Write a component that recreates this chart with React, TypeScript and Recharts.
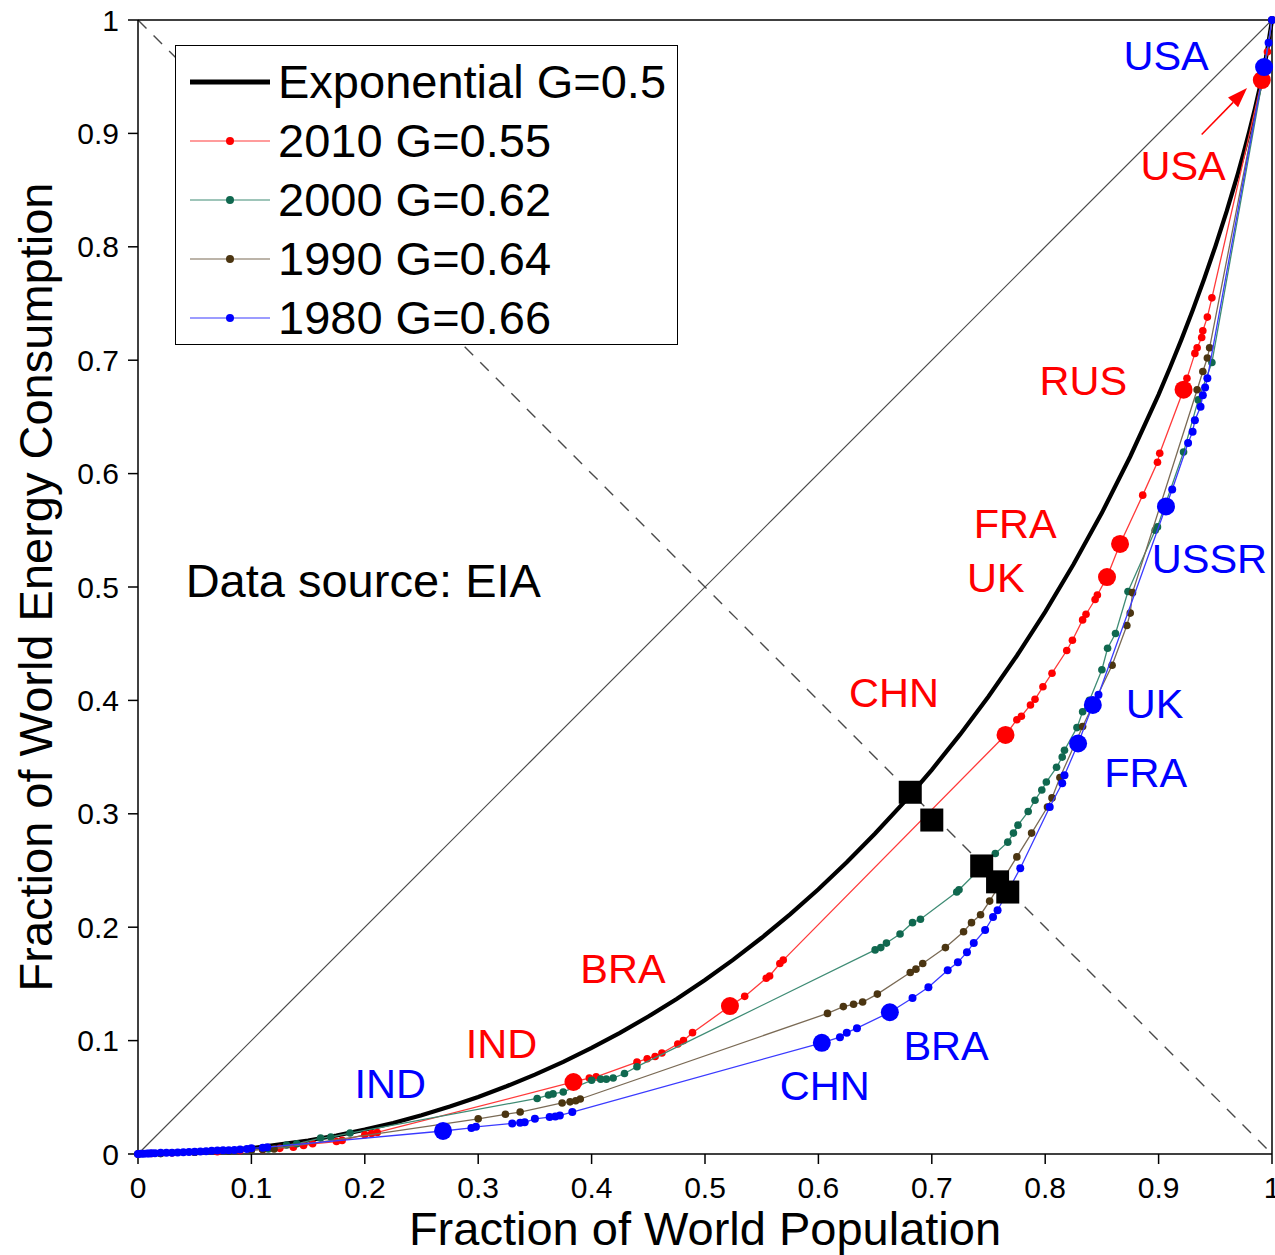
import React from 'react';
import { ScatterChart, Scatter, XAxis, YAxis, ReferenceLine, Legend } from 'recharts';

const FONT = '"Liberation Sans", Arial, Helvetica, sans-serif';

const RED = '#ff0000';
const GREEN = '#10684f';
const BROWN = '#4b3511';
const BLUE = '#0000ff';

const ticks = [0, 0.1, 0.2, 0.3, 0.4, 0.5, 0.6, 0.7, 0.8, 0.9, 1];
const tickLabels = ['0', '0.1', '0.2', '0.3', '0.4', '0.5', '0.6', '0.7', '0.8', '0.9', '1'];

// exponential Lorenz curve
const expo: [number, number][] = [
  [0, 0], [0.05, 0.0013], [0.1, 0.0052], [0.15, 0.0119], [0.175, 0.0163], [0.2, 0.0215], [0.225, 0.0274],
  [0.25, 0.0342], [0.275, 0.0419], [0.3, 0.0503], [0.325, 0.0597], [0.35, 0.07], [0.375, 0.0812],
  [0.4, 0.0935], [0.425, 0.1068], [0.45, 0.1212], [0.475, 0.1367], [0.5, 0.1534], [0.525, 0.1714],
  [0.55, 0.1907], [0.575, 0.2113], [0.6, 0.2335], [0.625, 0.2572], [0.65, 0.2826], [0.675, 0.3097],
  [0.7, 0.3388], [0.725, 0.37], [0.75, 0.4034], [0.775, 0.4394], [0.8, 0.4781], [0.825, 0.52],
  [0.85, 0.5654], [0.875, 0.6151], [0.9, 0.6697], [0.91, 0.6933], [0.92, 0.7179], [0.93, 0.7438],
  [0.94, 0.7712], [0.95, 0.8002], [0.96, 0.8312], [0.97, 0.8648], [0.975, 0.8828], [0.98, 0.9018],
  [0.985, 0.922], [0.99, 0.9439], [0.995, 0.9685], [1, 1],
];

const s2010: [number, number][] = [
  [0, 0], [0.012, 0.0005], [0.03, 0.001], [0.05, 0.0015], [0.07, 0.002], [0.09, 0.003], [0.11, 0.004],
  [0.125, 0.005], [0.137, 0.006], [0.146, 0.0075], [0.154, 0.009], [0.175, 0.011], [0.18, 0.012],
  [0.2, 0.017], [0.206, 0.018], [0.211, 0.019], [0.384, 0.0635], [0.398, 0.067], [0.404, 0.068],
  [0.44, 0.081], [0.449, 0.084], [0.456, 0.086], [0.462, 0.089], [0.476, 0.097], [0.481, 0.1],
  [0.489, 0.107], [0.522, 0.1305], [0.535, 0.139], [0.554, 0.155], [0.557, 0.157], [0.566, 0.168],
  [0.569, 0.171], [0.765, 0.3695], [0.775, 0.383], [0.779, 0.386], [0.787, 0.396], [0.791, 0.401],
  [0.798, 0.412], [0.806, 0.424], [0.819, 0.444], [0.824, 0.453], [0.833, 0.471], [0.836, 0.476],
  [0.844, 0.489], [0.846, 0.493], [0.8545, 0.5088], [0.866, 0.538], [0.886, 0.581], [0.899, 0.61],
  [0.901, 0.618], [0.922, 0.674], [0.925, 0.684], [0.932, 0.706], [0.934, 0.711], [0.938, 0.72],
  [0.939, 0.726], [0.943, 0.738], [0.947, 0.755], [0.991, 0.947], [0.996, 0.972], [1, 1],
];

const s2000: [number, number][] = [
  [0, 0], [0.02, 0.0005], [0.05, 0.0015], [0.08, 0.0025], [0.1, 0.0035], [0.115, 0.0045],
  [0.131, 0.008], [0.14, 0.009], [0.161, 0.014], [0.17, 0.015], [0.187, 0.0185], [0.352, 0.049],
  [0.362, 0.052], [0.366, 0.053], [0.375, 0.0547], [0.4, 0.065], [0.408, 0.066], [0.413, 0.066],
  [0.419, 0.067], [0.429, 0.071], [0.44, 0.077], [0.65, 0.18], [0.655, 0.182], [0.66, 0.186],
  [0.672, 0.194], [0.683, 0.204], [0.69, 0.207], [0.722, 0.231], [0.724, 0.233], [0.756, 0.265],
  [0.767, 0.275], [0.772, 0.283], [0.776, 0.29], [0.785, 0.302], [0.791, 0.312], [0.797, 0.321],
  [0.801, 0.328], [0.81, 0.341], [0.815, 0.35], [0.817, 0.356], [0.828, 0.376], [0.833, 0.39],
  [0.839, 0.4], [0.85, 0.427], [0.855, 0.446], [0.862, 0.459], [0.873, 0.496], [0.897, 0.55],
  [0.899, 0.553], [0.922, 0.619], [0.935, 0.665], [0.947, 0.698], [0.993, 0.955], [1, 1],
];

const s1990: [number, number][] = [
  [0, 0], [0.02, 0.0005], [0.05, 0.0015], [0.08, 0.0025], [0.1, 0.0035], [0.11, 0.004], [0.12, 0.0045],
  [0.3, 0.031], [0.324, 0.035], [0.337, 0.037], [0.374, 0.045], [0.381, 0.046], [0.386, 0.047],
  [0.39, 0.0485], [0.608, 0.124], [0.622, 0.13], [0.631, 0.132], [0.639, 0.134], [0.652, 0.141],
  [0.681, 0.16], [0.686, 0.163], [0.692, 0.168], [0.712, 0.182], [0.728, 0.196], [0.735, 0.204],
  [0.743, 0.211], [0.751, 0.223], [0.775, 0.262], [0.788, 0.283], [0.802, 0.306], [0.806, 0.314],
  [0.813, 0.332], [0.833, 0.377], [0.859, 0.431], [0.872, 0.466], [0.875, 0.477], [0.877, 0.495],
  [0.934, 0.674], [0.939, 0.69], [0.943, 0.702], [0.945, 0.711], [0.993, 0.957], [1, 1],
];

const s1980: [number, number][] = [
  [0, 0], [0.0025, 0.0002], [0.005, 0.0003], [0.008, 0.0004], [0.01, 0.0005], [0.012, 0.0006],
  [0.015, 0.0007], [0.02, 0.001], [0.025, 0.0011], [0.03, 0.0012], [0.035, 0.0013], [0.04, 0.0015],
  [0.045, 0.0017], [0.05, 0.002], [0.055, 0.0022], [0.06, 0.0025], [0.065, 0.0028], [0.07, 0.003],
  [0.075, 0.0032], [0.08, 0.0034], [0.085, 0.0035], [0.09, 0.004], [0.096, 0.0045], [0.1, 0.005],
  [0.11, 0.0055], [0.114, 0.006], [0.269, 0.0203], [0.294, 0.023], [0.298, 0.024],
  [0.33, 0.027], [0.337, 0.0275], [0.341, 0.028], [0.35, 0.031], [0.363, 0.0326], [0.368, 0.033],
  [0.372, 0.034], [0.383, 0.037], [0.603, 0.098], [0.619, 0.103], [0.625, 0.107], [0.634, 0.111],
  [0.663, 0.125], [0.683, 0.1375], [0.697, 0.147], [0.714, 0.162], [0.723, 0.169], [0.731, 0.178],
  [0.737, 0.186], [0.747, 0.1975], [0.754, 0.209], [0.758, 0.215], [0.778, 0.252], [0.804, 0.306],
  [0.815, 0.327], [0.817, 0.334], [0.829, 0.362], [0.842, 0.396], [0.847, 0.405], [0.9065, 0.571],
  [0.912, 0.586], [0.926, 0.627], [0.93, 0.637], [0.932, 0.647], [0.937, 0.659], [0.939, 0.669],
  [0.941, 0.676], [0.943, 0.684], [0.993, 0.9585], [0.997, 0.98], [1, 1],
];

// labelled countries (big dots)
const countries2010: [number, number][] = [
  [0.384, 0.0635], [0.522, 0.1305], [0.765, 0.3695], [0.8545, 0.5088], [0.866, 0.538], [0.922, 0.674], [0.991, 0.947],
];
const countries1980: [number, number][] = [
  [0.269, 0.0203], [0.603, 0.098], [0.663, 0.125], [0.829, 0.362], [0.842, 0.396], [0.9065, 0.571], [0.993, 0.9585],
];

// points where the curves cross the anti-diagonal
const crossings: [number, number][] = [
  [0.681, 0.319], [0.7, 0.2945], [0.744, 0.254], [0.758, 0.24], [0.767, 0.231],
];

const labels = [
  { text: 'USA', x: 0.869, y: 0.956, color: BLUE },
  { text: 'USSR', x: 0.894, y: 0.512, color: BLUE },
  { text: 'UK', x: 0.871, y: 0.3845, color: BLUE },
  { text: 'FRA', x: 0.852, y: 0.3236, color: BLUE },
  { text: 'BRA', x: 0.675, y: 0.0829, color: BLUE },
  { text: 'CHN', x: 0.566, y: 0.0476, color: BLUE },
  { text: 'IND', x: 0.191, y: 0.0494, color: BLUE },
  { text: 'USA', x: 0.884, y: 0.8589, color: RED },
  { text: 'RUS', x: 0.795, y: 0.6693, color: RED },
  { text: 'FRA', x: 0.737, y: 0.5432, color: RED },
  { text: 'UK', x: 0.731, y: 0.4956, color: RED },
  { text: 'CHN', x: 0.627, y: 0.3942, color: RED },
  { text: 'BRA', x: 0.39, y: 0.1508, color: RED },
  { text: 'IND', x: 0.289, y: 0.0847, color: RED },
];

const note = [{ text: 'Data source: EIA', x: 0.042, y: 0.491 }];

const legendItems = [
  { name: 'Exponential G=0.5', line: '#000', dot: '', thick: true },
  { name: '2010 G=0.55', line: '#ff3a3a', dot: RED, thick: false },
  { name: '2000 G=0.62', line: '#3f8c75', dot: GREEN, thick: false },
  { name: '1990 G=0.64', line: '#7a6a55', dot: BROWN, thick: false },
  { name: '1980 G=0.66', line: '#3a3aff', dot: BLUE, thick: false },
];

const pts = (arr: [number, number][]) => arr.map(([x, y]) => ({ x, y }));

const dot = (color: string, r: number) => (p: any) => <circle cx={p.cx} cy={p.cy} r={r} fill={color} />;
const noDot = () => <g />;
const square = (p: any) => <rect x={p.cx - 11.5} y={p.cy - 11.5} width={23} height={23} fill="#000" />;
const textMark = (size: number) => (p: any) => (
  <text x={p.cx} y={p.cy} fill={p.payload.color || '#000'} fontSize={size} fontFamily={FONT}>
    {p.payload.text}
  </text>
);

const Arrow = (p: any) => {
  const { x1, y1, x2, y2 } = p;
  const a = Math.atan2(y2 - y1, x2 - x1);
  const L = 20;
  const W = 7;
  const bx = x2 - L * Math.cos(a);
  const by = y2 - L * Math.sin(a);
  const head = `${x2},${y2} ${bx + W * Math.sin(a)},${by - W * Math.cos(a)} ${bx - W * Math.sin(a)},${by + W * Math.cos(a)}`;
  return (
    <g>
      <line x1={x1} y1={y1} x2={bx} y2={by} stroke={RED} strokeWidth={1.5} />
      <polygon points={head} fill={RED} />
    </g>
  );
};

const LegendBox = () => (
  <div
    style={{
      width: 503,
      height: 300,
      boxSizing: 'border-box',
      border: '1px solid #000',
      background: '#fff',
      paddingTop: 6,
      fontFamily: FONT,
    }}
  >
    {legendItems.map((it) => (
      <div key={it.name} style={{ display: 'flex', alignItems: 'center', height: 59 }}>
        <svg width={80} height={20} style={{ marginLeft: 14 }}>
          <line x1={0} y1={10} x2={80} y2={10} stroke={it.line} strokeWidth={it.thick ? 5 : 1.2} />
          {it.dot && <circle cx={40} cy={10} r={4} fill={it.dot} />}
        </svg>
        <span style={{ marginLeft: 8, fontSize: 47, color: '#000', lineHeight: '59px' }}>{it.name}</span>
      </div>
    ))}
  </div>
);

const axisStroke = { stroke: '#000', strokeWidth: 1.5 };

export default function App() {
  return (
    <div style={{ position: 'absolute', left: 0, top: 0, width: 1275, height: 1255, background: '#fff', fontFamily: FONT }}>
      <ScatterChart width={1275} height={1255} margin={{ top: 0, right: 0, bottom: 0, left: 0 }}>
        <XAxis
          type="number"
          dataKey="x"
          domain={[0, 1]}
          ticks={ticks}
          tickFormatter={(v: number) => tickLabels[ticks.indexOf(v)] ?? String(v)}
          height={101}
          tickSize={10}
          tickMargin={13}
          axisLine={axisStroke}
          tickLine={axisStroke}
          tick={{ fontSize: 30, fill: '#000' }}
          interval={0}
          label={{ value: 'Fraction of World Population', position: 'insideBottom', offset: 10, fontSize: 47, fill: '#000' }}
        />
        <XAxis
          xAxisId="top"
          orientation="top"
          type="number"
          domain={[0, 1]}
          ticks={ticks}
          height={20}
          tickSize={10}
          tick={false}
          axisLine={axisStroke}
          tickLine={axisStroke}
          interval={0}
        />
        <YAxis
          type="number"
          dataKey="y"
          domain={[0, 1]}
          ticks={ticks}
          tickFormatter={(v: number) => tickLabels[ticks.indexOf(v)] ?? String(v)}
          width={138}
          tickSize={10}
          tickMargin={9}
          axisLine={axisStroke}
          tickLine={axisStroke}
          tick={{ fontSize: 30, fill: '#000' }}
          interval={0}
          label={{
            value: 'Fraction of World Energy Consumption',
            angle: -90,
            position: 'insideLeft',
            offset: 35,
            fontSize: 47,
            fill: '#000',
            style: { textAnchor: 'middle' },
          }}
        />
        <YAxis
          yAxisId="right"
          orientation="right"
          type="number"
          domain={[0, 1]}
          ticks={ticks}
          width={3}
          tickSize={10}
          tick={false}
          axisLine={axisStroke}
          tickLine={axisStroke}
          interval={0}
        />

        <ReferenceLine segment={[{ x: 0, y: 0 }, { x: 1, y: 1 }]} stroke="#4a4a4a" strokeWidth={1.2} />
        <ReferenceLine segment={[{ x: 0, y: 1 }, { x: 1, y: 0 }]} stroke="#4a4a4a" strokeWidth={1.4} strokeDasharray="12 10" />

        <Scatter data={pts(expo)} line={{ stroke: '#000', strokeWidth: 4.2 }} shape={noDot} isAnimationActive={false} />
        <Scatter data={pts(s2010)} line={{ stroke: '#ff3a3a', strokeWidth: 1.3 }} shape={dot(RED, 3.8)} isAnimationActive={false} />
        <Scatter data={pts(s2000)} line={{ stroke: '#3f8c75', strokeWidth: 1.3 }} shape={dot(GREEN, 3.8)} isAnimationActive={false} />
        <Scatter data={pts(s1990)} line={{ stroke: '#7a6a55', strokeWidth: 1.3 }} shape={dot(BROWN, 3.8)} isAnimationActive={false} />
        <Scatter data={pts(s1980)} line={{ stroke: '#3a3aff', strokeWidth: 1.3 }} shape={dot(BLUE, 4)} isAnimationActive={false} />
        <Scatter data={pts(countries2010)} shape={dot(RED, 9)} isAnimationActive={false} />
        <Scatter data={pts(countries1980)} shape={dot(BLUE, 9)} isAnimationActive={false} />
        <Scatter data={pts(crossings)} shape={square} isAnimationActive={false} />

        <ReferenceLine segment={[{ x: 0.938, y: 0.899 }, { x: 0.978, y: 0.94 }]} shape={Arrow} />

        <Scatter data={labels} shape={textMark(41.5)} isAnimationActive={false} />
        <Scatter data={note} shape={textMark(47)} isAnimationActive={false} />

        <Legend
          layout="vertical"
          align="center"
          verticalAlign="middle"
          wrapperStyle={{ left: 175, top: 45, width: 503, height: 300 }}
          content={() => <LegendBox />}
        />
      </ScatterChart>
    </div>
  );
}
